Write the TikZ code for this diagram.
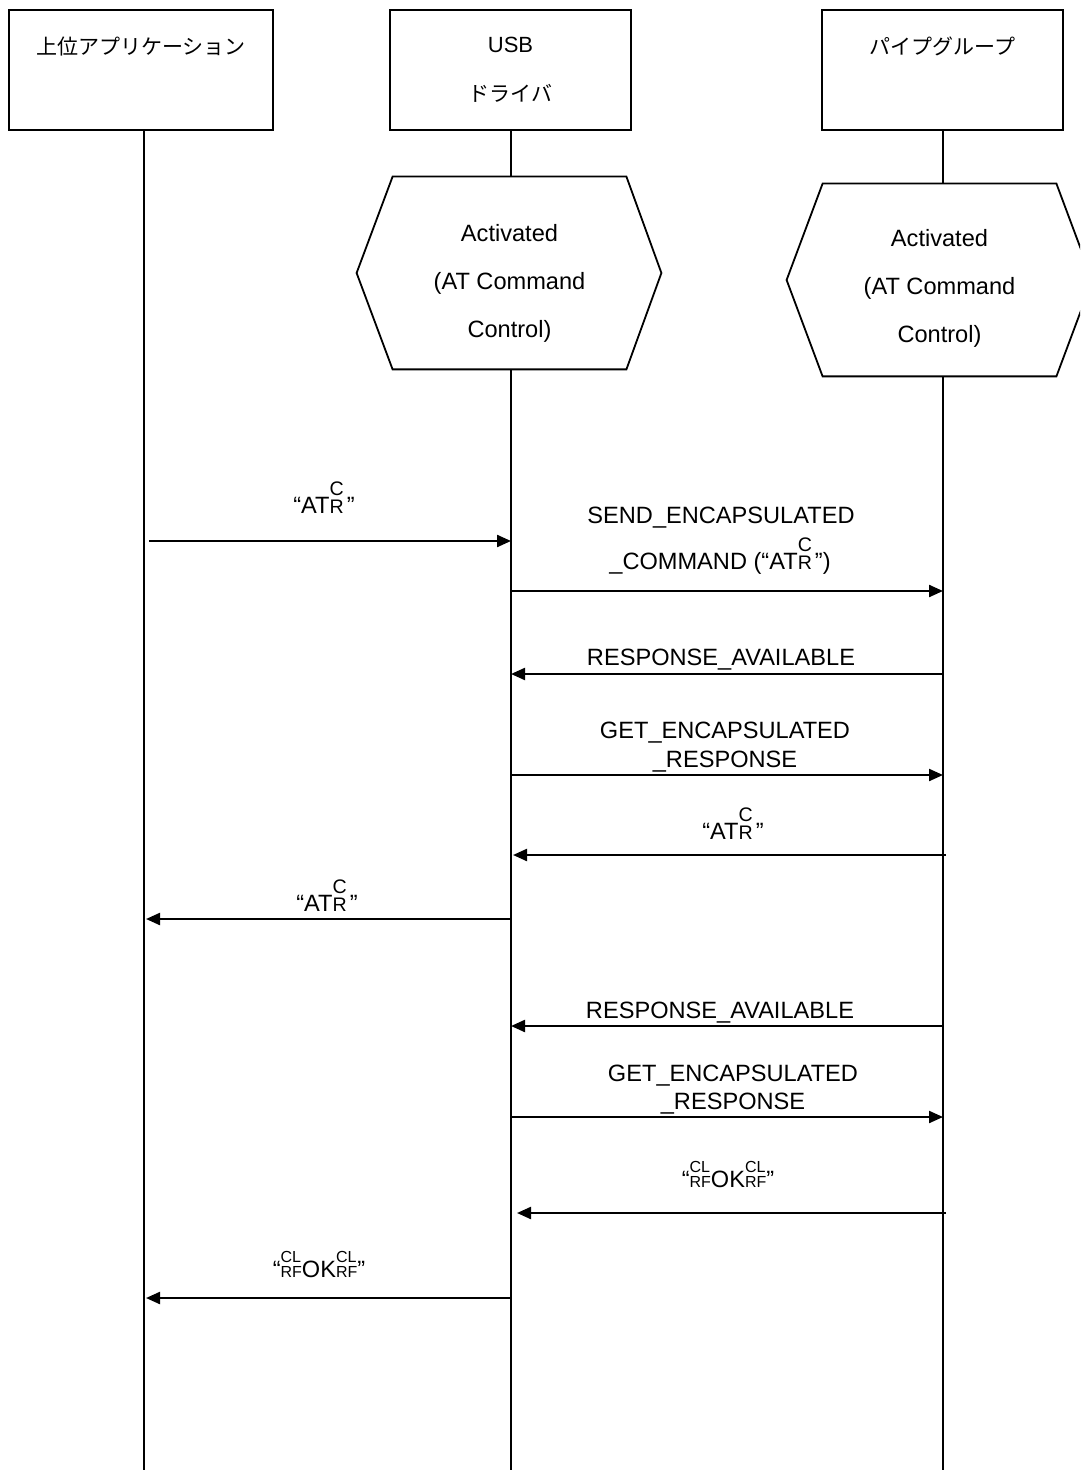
\documentclass[tikz,border=0pt]{standalone}
\usepackage{fontspec}
\setmainfont{Liberation Sans}
\newfontfamily\jpfont{Noto Sans CJK JP}
\usetikzlibrary{arrows.meta,calc}

% superscript placed over a subscript: #1 size, #2 raise, #3 upper, #4 lower
\newcommand\supsub[4]{%
  \begingroup\fontsize{#1}{#1}\selectfont
  \setbox0=\hbox{#3}\setbox2=\hbox{#4}%
  \ifdim\wd0>\wd2 \dimen0=\wd0 \else\dimen0=\wd2 \fi
  \rlap{\raise#2\box0}\rlap{\lower0.3pt\box2}\hskip\dimen0
  \endgroup}
\newcommand\atcr{“AT\supsub{9.8pt}{9pt}{C}{R}\hskip1.5pt”}
\newcommand\okmsg{“\supsub{8pt}{7.5pt}{CL}{RF}OK\supsub{8pt}{7.5pt}{CL}{RF}”}

\tikzset{
  actor/.style={draw, line width=1pt, minimum height=60pt, inner sep=0pt},
  actortext/.style={anchor=base, inner sep=0pt, font=\fontsize{11pt}{24pt}\selectfont, align=center},
  jptext/.style={anchor=base, inner sep=0pt, font=\jpfont\fontsize{10.5pt}{24pt}\selectfont},
  statearea/.style={minimum width=116.5pt, minimum height=96pt, inner sep=0pt},
  hexline/.style={line width=0.9pt, line join=miter},
  hextext/.style={anchor=base, inner sep=0pt, align=center, font=\fontsize{11.8pt}{24pt}\selectfont},
  life/.style={line width=1pt},
  msg/.style={line width=1.1pt, -{Triangle[length=7pt,width=6pt]}},
  msgtext/.style={anchor=base, inner sep=0pt, font=\fontsize{11.8pt}{14pt}\selectfont},
}

\begin{document}
\begin{tikzpicture}[x=0.5pt,y=-0.5pt]
\useasboundingbox (0,0) rectangle (1080,1470);
\begin{scope}
\clip (0,0) rectangle (1080,1470);

% participants
\node[actor, minimum width=132pt] (a1) at (141,70) {};
\node[actor, minimum width=120.5pt] (a2) at (510.5,70) {};
\node[actor, minimum width=120.5pt] (a3) at (942.5,70) {};
\node[jptext] (a1t) at (141,55) {上位アプリケーション};
\node[actortext] (a2t) at (510.5,53) {USB};
\node[jptext] (a2u) at (510.5,102) {ドライバ};
\node[jptext] (a3t) at (942.5,55) {パイプグループ};

% lifeline ends
\coordinate (l1) at (144,1470);
\coordinate (l2) at (511,1470);
\coordinate (l3) at (943,1470);

% state hexagons
\node[statearea] (h2) at (509.5,273) {};
\node[statearea] (h3) at (939.5,280) {};
\draw[hexline] (h2.north west) -- (h2.north east) -- ([xshift=17.5pt]h2.east)
  -- (h2.south east) -- (h2.south west) -- ([xshift=-18pt]h2.west) -- cycle;
\draw[hexline] (h3.north west) -- (h3.north east) -- ([xshift=18pt]h3.east)
  -- (h3.south east) -- (h3.south west) -- ([xshift=-18pt]h3.west) -- cycle;
% base anchor sits on the last line
\node[hextext] (h2t) at (509.5,338) {Activated\\(AT Command\\Control)};
\node[hextext] (h3t) at (939.5,343) {Activated\\(AT Command\\Control)};

% lifelines
\draw[life] (a1.south -| l1) -- (l1);
\draw[life] (a2.south -| l2) -- (h2.north -| l2);
\draw[life] (h2.south -| l2) -- (l2);
\draw[life] (a3.south -| l3) -- (h3.north -| l3);
\draw[life] (h3.south -| l3) -- (l3);

% message end points
\coordinate (m1s) at (149,541);  \coordinate (m1e) at (511,541);
\coordinate (m2s) at (511,591);  \coordinate (m2e) at (943,591);
\coordinate (m3s) at (943,674);  \coordinate (m3e) at (511,674);
\coordinate (m4s) at (511,775);  \coordinate (m4e) at (943,775);
\coordinate (m5s) at (946,855);  \coordinate (m5e) at (513,855);
\coordinate (m6s) at (511,919);  \coordinate (m6e) at (146,919);
\coordinate (m7s) at (943,1026); \coordinate (m7e) at (511,1026);
\coordinate (m8s) at (511,1117); \coordinate (m8e) at (943,1117);
\coordinate (m9s) at (946,1213); \coordinate (m9e) at (517,1213);
\coordinate (m10s) at (511,1298); \coordinate (m10e) at (146,1298);

% messages
\draw[msg] (m1s) -- (m1e);
\draw[msg] (m2s) -- (m2e);
\draw[msg] (m3s) -- (m3e);
\draw[msg] (m4s) -- (m4e);
\draw[msg] (m5s) -- (m5e);
\draw[msg] (m6s) -- (m6e);
\draw[msg] (m7s) -- (m7e);
\draw[msg] (m8s) -- (m8e);
\draw[msg] (m9s) -- (m9e);
\draw[msg] (m10s) -- (m10e);

% message labels
\node[msgtext] (t1) at (324,513) {\atcr};
\node[msgtext] (t2a) at (721,523) {SEND\_ENCAPSULATED};
\node[msgtext] (t2b) at (720,569) {\_COMMAND (\atcr)};
\node[msgtext] (t3) at (721,665) {RESPONSE\_AVAILABLE};
\node[msgtext] (t4a) at (725,738) {GET\_ENCAPSULATED};
\node[msgtext] (t4b) at (725,767) {\_RESPONSE};
\node[msgtext] (t5) at (733,839) {\atcr};
\node[msgtext] (t6) at (327,911) {\atcr};
\node[msgtext] (t7) at (720,1018) {RESPONSE\_AVAILABLE};
\node[msgtext] (t8a) at (733,1081) {GET\_ENCAPSULATED};
\node[msgtext] (t8b) at (733,1109) {\_RESPONSE};
\node[msgtext] (t9) at (728,1187) {\okmsg};
\node[msgtext] (t10) at (319,1277) {\okmsg};
\end{scope}
\end{tikzpicture}
\end{document}
